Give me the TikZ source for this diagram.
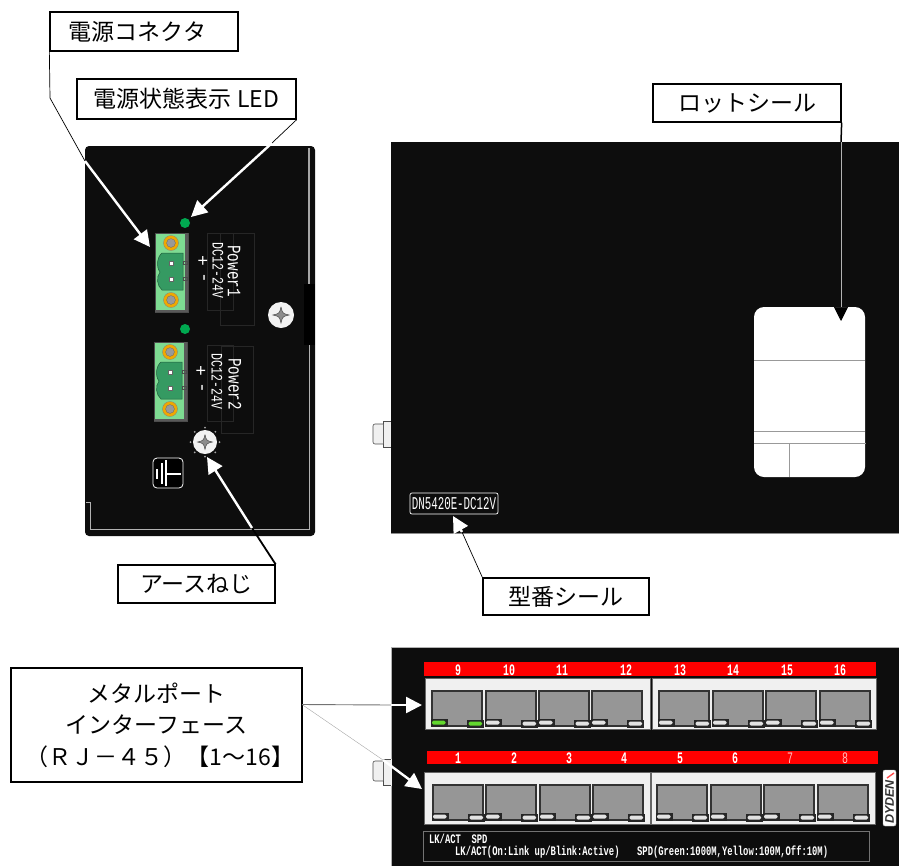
\documentclass[tikz,border=0pt]{standalone}
\usepackage{fontspec}
\setmainfont{Noto Sans CJK JP}
\newfontfamily\monofnt{Liberation Mono}
\newfontfamily\logofnt{Liberation Sans}
\usetikzlibrary{arrows.meta}
\definecolor{panelblack}{HTML}{0D0D0D}
\definecolor{termgreen}{HTML}{7EDB92}
\definecolor{bodygreen}{HTML}{359A62}
\definecolor{ledgreen}{HTML}{00A850}
\definecolor{screwgold}{HTML}{F0A800}
\definecolor{ledoff}{HTML}{E2E2E2}
\definecolor{ledon}{HTML}{62D82E}
\tikzset{
  callout/.style={draw=black, fill=white, line width=1.3pt, inner sep=0pt, font=\fontsize{23}{31.5}\selectfont, align=center},
  callone/.style={callout, text height=20.2pt, text depth=2.8pt},
  leadthin/.style={draw=black, line width=0.7pt},
  leadwhite/.style={draw=white, line width=2.4pt, -{Triangle[length=16pt,width=16pt]}},
  ghostbox/.style={draw=black!85!white, line width=0.5pt},
  silk/.style={text=white, inner sep=0pt, font=\monofnt\fontsize{16}{16}\selectfont},
  portnum/.style={text=white, inner sep=0pt, xscale=0.62, font=\monofnt\bfseries\fontsize{16}{16}\selectfont},
  portblock/.style={fill=black!6, draw=black!60, line width=0.9pt},
  pics/screw/.style={code={
    \fill[black!5] (0,0) circle (#1);
    \fill[black!45, draw=black!70, line width=0.5pt] (0,-0.62*#1) .. controls (0.12*#1,-0.12*#1) .. (0.62*#1,0) .. controls (0.12*#1,0.12*#1) .. (0,0.62*#1) .. controls (-0.12*#1,0.12*#1) .. (-0.62*#1,0) .. controls (-0.12*#1,-0.12*#1) .. (0,-0.62*#1);
  }},
  pics/terminal/.style={code={
    \fill[termgreen, draw=black!70, line width=0.6pt] (0,0) rectangle (33,79);
    \fill[black!65] (30,0) rectangle (33,79);
    \fill[black!65] (0,77) rectangle (33,79);
    \foreach \sy in {10,67} {
      \fill[screwgold, draw=black!50, line width=0.3pt] (16,\sy) circle (7.5);
      \fill[black!40, draw=black!60, line width=0.3pt] (16,\sy) circle (4.4);
    }
    \draw[bodygreen!60!black, fill=bodygreen, line width=0.5pt] (7,20) -- (28,20) -- (28,57) -- (7,57) .. controls (2,53) and (1,44) .. (5,39) .. controls (1,34) and (2,24) .. (7,20) -- cycle;
    \foreach \sy in {30,46} {
      \fill[white, draw=black!60, line width=0.3pt] (14,\sy-2) rectangle (18,\sy+2);
      \draw[black!70, line width=0.5pt] (28,\sy-1.5) rectangle (32,\sy+1.5);
    }
  }},
  pics/rjport/.style={code={
    \draw[fill=black!41, draw=black!80, line width=1.5pt] (0,35) -- (0,0) -- (50,0) -- (50,35) -- cycle;
    \fill[black!85] (-1.5,27.5) rectangle (15.5,35.5);
    \fill[black!85] (34.5,28.5) rectangle (51.5,36.5);
    \fill[#1, rounded corners=1.5pt] (0,29.5) rectangle (13.5,33.5);
    \fill[#1, rounded corners=1.5pt] (36.5,30.5) rectangle (50,34.5);
  }},
  pics/rjport/.default=ledoff
}
\begin{document}
\begin{tikzpicture}[x=1pt,y=-1pt]
\useasboundingbox (0,0) rectangle (899,865);
% left face
\fill[panelblack, rounded corners=4pt] (85,146) rectangle (315,536);
\draw[black!35, line width=1.6pt] (309,148) -- (309,284);
\fill[black] (304,284) rectangle (315,345);
\draw[black!30, line width=1pt] (309,345) -- (309,529) -- (90.5,529) -- (90.5,502) -- (86,502);
\pic at (155,233) {terminal};
\pic at (154,342) {terminal};
\fill[ledgreen] (185,223) circle (5);
\fill[ledgreen] (185,329) circle (5);
\draw[ghostbox] (207,233) rectangle (233,310);
\draw[ghostbox] (220,233) rectangle (254,325);
\draw[ghostbox] (207,345) rectangle (233,421);
\draw[ghostbox] (221,346) rectangle (253,433);
\node[silk, rotate=-90, font=\monofnt\fontsize{18}{18}\selectfont] (plus1) at (202,261) {+};
\node[silk, rotate=-90, font=\monofnt\fontsize{18}{18}\selectfont] (minus1) at (202,278) {-};
\node[silk, rotate=-90, xscale=0.72] (dc1) at (218,270.5) {DC12-24V};
\node[silk, rotate=-90, xscale=0.75, font=\monofnt\fontsize{19}{19}\selectfont] (power1) at (234,271) {Power1};
\node[silk, rotate=-90, font=\monofnt\fontsize{18}{18}\selectfont] (plus2) at (200,371) {+};
\node[silk, rotate=-90, font=\monofnt\fontsize{18}{18}\selectfont] (minus2) at (200,388) {-};
\node[silk, rotate=-90, xscale=0.72] (dc2) at (217,381.5) {DC12-24V};
\node[silk, rotate=-90, xscale=0.75, font=\monofnt\fontsize{19}{19}\selectfont] (power2) at (235,384) {Power2};
\pic at (281,315) {screw=13};
\foreach \a in {0,45,...,315}
  \fill[black!35] (205,442) ++(\a:14.5) circle (1);
\pic at (205,442) {screw=12};
\draw[white, fill=black, line width=0.8pt, rounded corners=4pt] (153,458) rectangle (183,488);
\draw[white, line width=2.7pt] (166,460) -- (166,486);
\draw[white, line width=2pt] (166,473.5) -- (181,473.5);
\draw[white, line width=2.4pt] (162,463) -- (162,484);
\draw[white, line width=2.4pt] (157,469) -- (157,479);
% side face
\draw[black!70, fill=black!6, line width=0.6pt] (383,421) rectangle (391,447);
\draw[black!70, fill=black!6, line width=0.6pt, rounded corners=2pt] (383,424) -- (373,424) -- (373,444) -- (383,444);
\fill[panelblack] (391,142) rectangle (899,533);
\draw[black!45, line width=0.6pt] (391,533) -- (899,533);
\draw[white, line width=0.7pt, rounded corners=2pt] (410,493) rectangle (498,514);
\node[silk, xscale=0.6, font=\monofnt\fontsize{18}{18}\selectfont] (modeltext) at (454,503.5) {DN5420E-DC12V};
\fill[white, rounded corners=10pt] (754,307) rectangle (865,477);
\draw[black!40, line width=0.8pt] (754,360) -- (865,360);
\draw[black!40, line width=0.8pt] (754,431) -- (865,431);
\draw[black!40, line width=1pt] (754,443) -- (866,443);
\draw[black!40, line width=0.8pt] (789,443) -- (789,477);
% port face
\draw[black!30, fill=panelblack, line width=0.8pt] (391,647) rectangle (905,870);
\draw[black!6, fill=black!6, line width=0.6pt] (383,759) rectangle (391,785);
\draw[black!70, line width=0.6pt] (383,759) -- (391,759) (383,785) -- (391,785) (383,759) -- (383,785);
\draw[black!70, fill=black!6, line width=0.6pt, rounded corners=2pt] (383,761) -- (373,761) -- (373,781) -- (383,781);
\fill[red] (424,662) rectangle (876,676);
\fill[red] (427,751) rectangle (878,764);
\foreach \n/\px in {9/458,10/509,11/562,12/626,13/680,14/733,15/787,16/840}
  \node[portnum] (num\n) at (\px,670) {\n};
\foreach \n/\px in {1/458,2/514,3/569,4/624,5/680,6/735}
  \node[portnum] (num\n) at (\px,758) {\n};
\foreach \n/\px in {7/790,8/845}
  \node[portnum, text=red!25!white, font=\monofnt\fontsize{16}{16}\selectfont] (num\n) at (\px,758) {\n};
\draw[portblock] (425,678) rectangle (650,729);
\draw[portblock] (652,678) rectangle (876,729);
\draw[portblock] (424,772) rectangle (650,824);
\draw[portblock] (651,772) rectangle (875,824);
\pic at (432,691) {rjport=ledon};
\foreach \px in {486,539,592,659,713,766,820}
  \pic at (\px,691) {rjport};
\foreach \px in {433,486,540,593,657,711,764,818}
  \pic at (\px,785) {rjport};
\draw[black!55, line width=0.8pt] (423,831) rectangle (869,861);
\node[silk, anchor=west, xscale=0.68, font=\monofnt\bfseries\fontsize{13}{13}\selectfont] (legendhead) at (429,839) {LK/ACT~~SPD};
\node[silk, anchor=west, xscale=0.68, font=\monofnt\bfseries\fontsize{13}{13}\selectfont] (legendlk) at (455,852) {LK/ACT(On:Link up/Blink:Active)};
\node[silk, anchor=west, xscale=0.68, font=\monofnt\bfseries\fontsize{13}{13}\selectfont] (legendspd) at (637,852) {SPD(Green:1000M,Yellow:100M,Off:10M)};
\fill[white, rounded corners=2pt, draw=black!30, line width=0.4pt] (883,770) rectangle (896,826);
\node[inner sep=0pt, rotate=90, text=black!80, font=\logofnt\bfseries\itshape\fontsize{12.5}{12.5}\selectfont] (dydenlogo) at (889.5,802) {DYDEN};
\draw[red!70!white, line width=1.4pt] (887,778) -- (894,773);
% callouts
\node[callone, minimum width=188pt, minimum height=39pt] (powerconn) at (144,31.5) {電源コネクタ\hspace{13pt}};
\node[callone, minimum width=219pt, minimum height=40pt] (powerled) at (186.5,99) {電源状態表示 LED};
\node[callone, minimum width=188pt, minimum height=38pt] (lotseal) at (747,103) {ロットシール};
\node[callone, minimum width=157pt, minimum height=38pt] (earthscrew) at (196.5,584) {アースねじ};
\node[callone, minimum width=166pt, minimum height=37pt] (modelseal) at (566,596.5) {型番シール};
\node[callout, minimum width=291pt, minimum height=114pt] (metalport) at (156.5,725) {メタルポート\\インターフェース\\\hspace*{7pt}（ＲＪ－４５）【1～16】};
% leaders
\coordinate (connbend) at (50,98);
\coordinate (connin) at (85,161);
\coordinate (conntip) at (150,247);
\draw[leadthin] (powerconn.south west) -- (connbend) -- (connin);
\draw[leadwhite] (connin) -- (conntip);
\coordinate (ledin) at (272,143);
\coordinate (ledtip) at (191,217);
\draw[leadthin] (powerled.south east) -- (ledin);
\draw[leadwhite] (ledin) -- (ledtip);
\coordinate (earthin) at (252,528);
\coordinate (earthtip) at (207,457);
\draw[draw=black, line width=1.8pt] (earthscrew.north east) -- (earthin);
\draw[leadwhite] (earthin) -- (earthtip);
\coordinate (modelin) at (462,532);
\coordinate (modeltip) at (453,516);
\draw[leadthin] (modelseal.north west) -- (modelin);
\draw[leadwhite] (modelin) -- (modeltip);
\coordinate (lotin) at (841,142);
\coordinate (lottip) at (841,321);
\draw[draw=black, line width=1.5pt] (lotseal.south east) -- (lotin);
\draw[draw=black!30, line width=0.7pt, -{Triangle[length=14pt,width=14pt,black]}] (lotin) -- (lottip);
\coordinate (upperin) at (391,705);
\coordinate (uppertip) at (422,705);
\coordinate (lowerin) at (383,760);
\coordinate (lowertip) at (422,789);
\coordinate (metalout) at (302,704.5);
\draw[draw=black!55, line width=0.9pt] (metalout) -- (upperin);
\draw[leadwhite] (upperin) -- (uppertip);
\draw[draw=black!35, line width=0.4pt] (metalout) -- (lowerin);
\draw[leadwhite] (lowerin) -- (lowertip);
\end{tikzpicture}
\end{document}
